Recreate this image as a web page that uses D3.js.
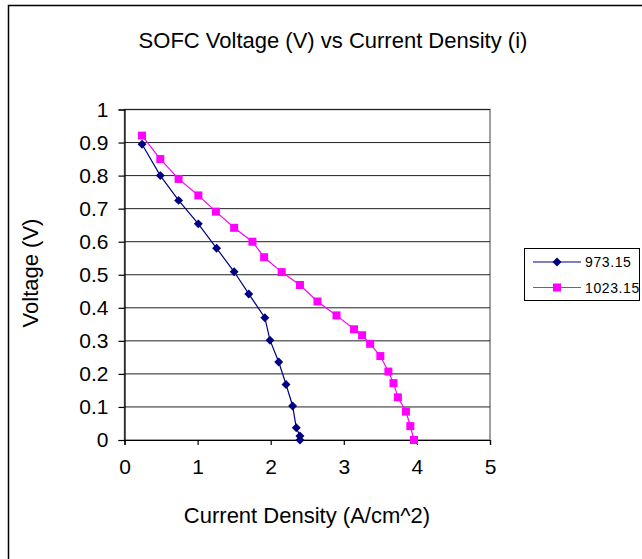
<!DOCTYPE html>
<html>
<head>
<meta charset="utf-8">
<script src="https://cdn.jsdelivr.net/npm/d3@7"></script>
<style>
  html, body { margin: 0; padding: 0; background: #fff; }
  svg { display: block; font-family: "Liberation Sans", Arial, sans-serif; }
</style>
</head>
<body>
<svg id="chart" width="642" height="559"></svg>
<script>
// Current density (A/cm^2) and cell voltage (V) at two operating temperatures (K)
const series1Name = "973.15";
const series1Current = [0.24, 0.49, 0.74, 1.01, 1.26, 1.50, 1.70, 1.92, 1.99, 2.11, 2.21, 2.30, 2.35, 2.40, 2.40];
const series1Voltage = [0.895, 0.80, 0.725, 0.654, 0.580, 0.509, 0.442, 0.370, 0.302, 0.236, 0.168, 0.103, 0.037, 0.012, 0.0];

const series2Name = "1023.15";
const series2Current = [0.24, 0.49, 0.74, 1.01, 1.25, 1.50, 1.75, 1.91, 2.15, 2.40, 2.64, 2.90, 3.14, 3.25, 3.36, 3.50, 3.61, 3.68, 3.74, 3.85, 3.91, 3.96];
const series2Voltage = [0.921, 0.850, 0.790, 0.740, 0.691, 0.642, 0.600, 0.553, 0.508, 0.469, 0.419, 0.377, 0.335, 0.317, 0.291, 0.254, 0.207, 0.172, 0.129, 0.086, 0.042, 0.0];

const xTicks = [0, 1, 2, 3, 4, 5];
const yTicks = [0, 0.1, 0.2, 0.3, 0.4, 0.5, 0.6, 0.7, 0.8, 0.9, 1];

const titleText = "SOFC Voltage (V) vs Current Density (i)";
const xTitle = "Current Density (A/cm^2)";
const yTitle = "Voltage (V)";

const svg = d3.select("#chart");

// outer chart frame (runs off the right and bottom edges)
svg.append("rect")
  .attr("x", 8.5).attr("y", 5.5)
  .attr("width", 700).attr("height", 600)
  .attr("fill", "#fff")
  .attr("stroke", "#000").attr("stroke-width", 1.5);

const plot = { left: 124.5, right: 490, top: 109.5, bottom: 440 };

const x = d3.scaleLinear().domain([0, 5]).range([plot.left, plot.right]);
const y = d3.scaleLinear().domain([0, 1]).range([plot.bottom, plot.top]);

// plot area border (grey)
svg.append("rect")
  .attr("x", plot.left).attr("y", plot.top)
  .attr("width", plot.right - plot.left).attr("height", plot.bottom - plot.top)
  .attr("fill", "#fff").attr("stroke", "#808080").attr("stroke-width", 1.5);

// horizontal gridlines
svg.append("g")
  .selectAll("line")
  .data(yTicks.filter(d => d > 0))
  .join("line")
  .attr("x1", plot.left).attr("x2", plot.right)
  .attr("y1", d => y(d)).attr("y2", d => y(d))
  .attr("stroke", "#222").attr("stroke-width", 1);

// axes
const fmtY = d => (d === 0 || d === 1) ? String(d) : d.toFixed(1);
const yAxis = svg.append("g")
  .attr("transform", `translate(${plot.left},0)`)
  .call(d3.axisLeft(y).tickValues(yTicks).tickFormat(fmtY).tickSize(6).tickPadding(10));
const xAxis = svg.append("g")
  .attr("transform", `translate(0,${plot.bottom})`)
  .call(d3.axisBottom(x).tickValues(xTicks).tickFormat(d3.format("d")).tickSize(5).tickPadding(14));

[yAxis, xAxis].forEach(g => {
  g.select(".domain").attr("stroke", "#000").attr("stroke-width", 1.2);
  g.selectAll(".tick line").attr("stroke", "#000").attr("stroke-width", 1.2);
  g.selectAll(".tick text")
    .attr("fill", "#000")
    .style("font-family", "'Liberation Sans', Arial, sans-serif")
    .style("font-size", "21px");
});

// series
const data1 = series1Current.map((c, i) => ({ c, v: series1Voltage[i] }));
const data2 = series2Current.map((c, i) => ({ c, v: series2Voltage[i] }));
const line = d3.line().x(d => x(d.c)).y(d => y(d.v));

const blue = "#000080";
const pink = "#ff00ff";

svg.append("path").datum(data2)
  .attr("d", line).attr("fill", "none").attr("stroke", pink).attr("stroke-width", 1.2);
svg.append("path").datum(data1)
  .attr("d", line).attr("fill", "none").attr("stroke", blue).attr("stroke-width", 1.2);

const squareSym = d3.symbol().type(d3.symbolSquare).size(64);
const diamondSym = d3.symbol().type(d3.symbolSquare).size(40);

svg.append("g").selectAll("path")
  .data(data2).join("path")
  .attr("d", squareSym)
  .attr("transform", d => `translate(${x(d.c)},${y(d.v)})`)
  .attr("fill", pink);

svg.append("g").selectAll("path")
  .data(data1).join("path")
  .attr("d", diamondSym)
  .attr("transform", d => `translate(${x(d.c)},${y(d.v)}) rotate(45)`)
  .attr("fill", blue);

// titles
svg.append("text")
  .attr("x", 333).attr("y", 48)
  .attr("text-anchor", "middle")
  .style("font-size", "22px")
  .text(titleText);

svg.append("text")
  .attr("x", 307).attr("y", 523)
  .attr("text-anchor", "middle")
  .style("font-size", "22px")
  .text(xTitle);

svg.append("text")
  .attr("transform", "translate(38,273) rotate(-90)")
  .attr("text-anchor", "middle")
  .style("font-size", "22px")
  .text(yTitle);

// legend
const legend = svg.append("g");
legend.append("rect")
  .attr("x", 524.5).attr("y", 248.5)
  .attr("width", 115).attr("height", 52)
  .attr("fill", "#fff").attr("stroke", "#000").attr("stroke-width", 1);

const legendItems = [
  { name: series1Name, color: blue, sym: diamondSym, rot: 45 },
  { name: series2Name, color: pink, sym: squareSym, rot: 0 }
];
legendItems.forEach((it, i) => {
  const cy = 262 + i * 25.5;
  legend.append("line")
    .attr("x1", 533).attr("x2", 581).attr("y1", cy).attr("y2", cy)
    .attr("stroke", it.color).attr("stroke-width", 1.2);
  legend.append("path")
    .attr("d", it.sym)
    .attr("transform", `translate(557,${cy}) rotate(${it.rot})`)
    .attr("fill", it.color);
  legend.append("text")
    .attr("x", 585).attr("y", cy + 5)
    .style("font-size", "14px")
    .style("letter-spacing", "0.6px")
    .text(it.name);
});
</script>
</body>
</html>
